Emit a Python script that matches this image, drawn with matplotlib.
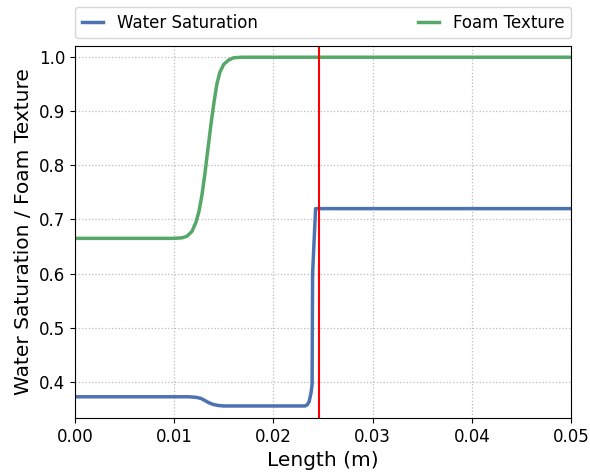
import matplotlib
matplotlib.use('Agg')
import matplotlib.pyplot as plt

# Water saturation profile
sw_x = [0.0, 0.0115, 0.0122, 0.0127, 0.0131, 0.0135, 0.0139, 0.0144, 0.0150,
        0.0232, 0.0234, 0.0236, 0.0238, 0.0239, 0.02395, 0.0241, 0.0242,
        0.02425, 0.05]
sw_y = [0.372, 0.372, 0.371, 0.369, 0.365, 0.361, 0.358, 0.356, 0.355,
        0.355, 0.357, 0.363, 0.380, 0.395, 0.600, 0.660, 0.700,
        0.720, 0.720]

# Foam texture profile
ft_x = [0.0, 0.0100, 0.0108, 0.0113, 0.0118, 0.0122, 0.0125, 0.0128, 0.0131,
        0.0134, 0.0137, 0.0140, 0.0143, 0.0146, 0.0150, 0.0155, 0.0160,
        0.0168, 0.05]
ft_y = [0.665, 0.665, 0.666, 0.669, 0.678, 0.695, 0.715, 0.745, 0.785,
        0.830, 0.875, 0.915, 0.950, 0.972, 0.987, 0.995, 0.999,
        1.0, 1.0]

front_x = 0.0246

fig = plt.figure(figsize=(5.9, 4.73), dpi=100)
ax = fig.add_axes([0.127, 0.116, 0.841, 0.787])

ax.plot(sw_x, sw_y, color='#4C72B0', lw=2.5, label='Water Saturation')
ax.plot(ft_x, ft_y, color='#55A868', lw=2.5, label='Foam Texture')
ax.axvline(front_x, color='red', lw=1.5)

ax.set_xlim(0, 0.05)
ax.set_ylim(0.3325, 1.021)
ax.set_xticks([0.0, 0.01, 0.02, 0.03, 0.04, 0.05])
ax.set_xticklabels(['0.00', '0.01', '0.02', '0.03', '0.04', '0.05'])
ax.set_yticks([0.4, 0.5, 0.6, 0.7, 0.8, 0.9, 1.0])
ax.tick_params(labelsize=12)
ax.grid(True, linestyle=':', color='#bbbbbb', lw=0.9)
ax.set_xlabel('Length (m)', fontsize=14.5)
ax.set_ylabel('Water Saturation / Foam Texture', fontsize=14.5)

ax.legend(bbox_to_anchor=(0, 1.02, 1, 0.102), loc='lower left', mode='expand',
          ncol=2, borderaxespad=0, fontsize=12, handlelength=1.3)

fig.savefig('out.png', dpi=100)
